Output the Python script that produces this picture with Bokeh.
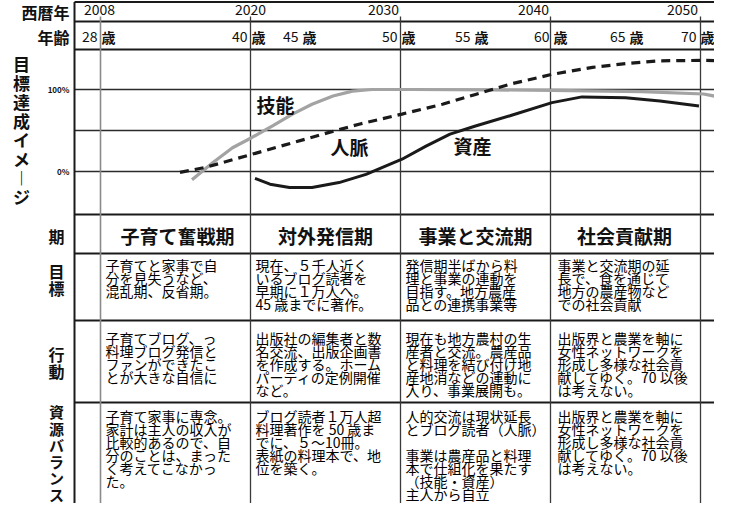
from bokeh.plotting import figure
from bokeh.models import Range1d
from bokeh.embed import file_html
from bokeh.resources import INLINE
from bokeh.core.properties import value

# ---------------- data ----------------
year_labels = ["2008", "2020", "2030", "2040", "2050"]
age_labels = ["28", "40", "45", "50", "55", "60", "65", "70"]
pct_labels = ["100%", "0%"]
pct_values = [100, 0]

skill_year = [2016.1, 2017.5, 2018.8, 2020.1, 2021.5, 2022.8, 2024.1, 2025.5, 2026.8,
              2028.1, 2030.8, 2036.1, 2040.1, 2046.1, 2050.2, 2051.5]
skill_pct = [-10, 11, 29, 41.5, 56, 70, 82, 92, 98, 100, 100, 99.5, 99, 97.5, 94.5, 90]

network_year = [2015.3, 2017.0, 2020.1, 2022.8, 2025.3, 2027.3, 2030.1, 2032.8, 2035.0,
                2037.3, 2040.1, 2042.8, 2045.0, 2047.3, 2050.3, 2051.5]
network_pct = [-1, 5, 21, 35, 48, 58, 70, 82, 94, 106.5, 118.5, 127, 131.5, 135, 135.5, 135]

asset_year = [2020.3, 2021.3, 2022.6, 2024.1, 2025.9, 2027.7, 2030.1, 2031.7, 2033.3,
              2035.0, 2037.3, 2040.1, 2042.1, 2045.0, 2047.3, 2049.9]
asset_pct = [-8.5, -15.5, -19.5, -19.5, -13.5, -3.5, 15, 31, 45.5, 55.5, 68, 84, 91, 90, 86, 80]

curve_names = ["技能", "人脈", "資産"]

chart_title = "目標達成イメ︱ジ"
row_names = ["期", "目標", "行動", "資源バランス"]
periods = ["子育て奮戦期", "対外発信期", "事業と交流期", "社会貢献期"]

goals = [
    "子育てと家事で自\n分を見失うなど、\n混乱期、反省期。",
    "現在、５千人近く\nいるブログ読者を\n早期に１万人へ。\n45 歳までに著作。",
    "発信期半ばから料\n理と事業の連動を\n目指す。地方農産\n品との連携事業等",
    "事業と交流期の延\n長で、食を通じて\n地方の農産物など\nでの社会貢献",
]
actions = [
    "子育てブログ、っ\n料理ブログ発信と\nファンができたこ\nとが大きな自信に",
    "出版社の編集者と数\n名交流、出版企画書\nを作成する。ホーム\nパーティの定例開催\nなど。",
    "現在も地方農村の生\n産者と交流。農産品\nと料理を結び付け地\n産地消などの運動に\n入り、事業展開も。",
    "出版界と農業を軸に\n女性ネットワークを\n形成し多様な社会貢\n献してゆく。70 以後\nは考えない。",
]
resources = [
    "子育て家事に専念。\n家計は主人の収入が\n比較的あるので、自\n分のことは、まった\nく考えてこなかっ\nた。",
    "ブログ読者１万人超\n料理著作を 50 歳ま\nでに、５～10冊。\n表紙の料理本で、地\n位を築く。",
    "人的交流は現状延長\nとブログ読者（人脈）\n\n事業は農産品と料理\n本で仕組化を果たす\n（技能・資産）\n主人から自立",
    "出版界と農業を軸に\n女性ネットワークを\n形成し多様な社会貢\n献してゆく。70 以後\nは考えない。",
]

# ---------------- layout (pixel positions of the printed sheet) ----------------
W, H = 714, 503
OFF = 8                       # page margin: sheet pixel = figure pixel + 8
PX_YEAR, X2020 = 15.0, 258.0  # 15 px per year, 2020 at px 258
PX_PCT, Y0 = 0.82, 179.0      # 0.82 px per %, 0% at px 179


def X(px):
    return 2020 + (px - X2020) / PX_YEAR


def Y(py):
    return (Y0 - py) / PX_PCT


FONT = value("Noto Sans CJK JP")
INK = "#111111"

p = figure(width=W, height=H, output_backend="svg", toolbar_location=None,
           x_range=Range1d(X(OFF), X(OFF + W)), y_range=Range1d(Y(OFF + H), Y(OFF)),
           x_axis_type=None, y_axis_type=None, min_border=0)
p.grid.visible = False
p.outline_line_color = None
p.background_fill_color = "white"
p.border_fill_color = "white"

grid_pos = [X(108), 2020, 2030, 2040, 2050]   # 2008 column is compressed on the sheet
LEFT, RIGHT, BOTTOM = X(82), X(735), Y(525)

# horizontal rules
rule_px = [9.5, 29, 57, 222, 261, 328, 410]
p.segment(x0=[LEFT] * len(rule_px), x1=[RIGHT] * len(rule_px),
          y0=[Y(v) for v in rule_px], y1=[Y(v) for v in rule_px],
          line_color="#1a1a1a", line_width=2)
# chart reference lines 100%, 50%, 0%
p.segment(x0=[LEFT] * 3, x1=[RIGHT] * 3, y0=[100, 50, 0], y1=[100, 50, 0],
          line_color="#2a2a2a", line_width=1.6)
# outer left border
p.segment(x0=[LEFT], x1=[LEFT], y0=[Y(9.5)], y1=[BOTTOM], line_color="#1a1a1a", line_width=2)
# vertical year lines
p.segment(x0=grid_pos[:1], x1=grid_pos[:1], y0=[Y(24)], y1=[BOTTOM],
          line_color="#8a8a8a", line_width=1.6)
p.segment(x0=grid_pos[1:], x1=grid_pos[1:], y0=[Y(24)] * 4, y1=[BOTTOM] * 4,
          line_color="#3a3a3a", line_width=1.3)

# curves
p.line(skill_year, skill_pct, line_color="#a3a3a3", line_width=3.2)
p.line(asset_year, asset_pct, line_color="#1a1a1a", line_width=3)
p.line(network_year, network_pct, line_color="#1a1a1a", line_width=3.2, line_dash="9 6")

# curve labels
p.text(x=[X(283), X(357), X(480)], y=[Y(112), Y(154), Y(153)], text=curve_names,
       text_font=FONT, text_font_size="19px", text_font_style="bold",
       text_align="center", text_baseline="middle", text_color=INK)

# year labels
year_x = [X(107), X(258), X(391), X(541), X(690)]
p.text(x=year_x, y=[Y(17)] * 5, text=year_labels, text_font=FONT, text_font_size="14px",
       text_align="center", text_baseline="middle", text_color=INK)

# age labels: number left of split point, 歳 right of it
age_split = [108, 258, 309, 408, 481, 560, 636, 707]
p.text(x=[X(v - 3) for v in age_split], y=[Y(44)] * 8, text=age_labels, text_font=FONT,
       text_font_size="14px", text_align="right", text_baseline="middle", text_color=INK)
p.text(x=[X(v + 1) for v in age_split], y=[Y(44)] * 8, text=["歳"] * 8, text_font=FONT,
       text_font_size="14px", text_font_style="bold", text_align="left",
       text_baseline="middle", text_color=INK)

# left side headings
p.text(x=[X(77), X(77)], y=[Y(19), Y(44)], text=["西暦年", "年齢"], text_font=FONT,
       text_font_size="16px", text_font_style="bold", text_align="right",
       text_baseline="middle", text_color=INK)
p.text(x=[X(77)] * 2, y=pct_values, text=pct_labels, text_font=FONT, text_font_size="8px",
       text_font_style="bold", text_align="right", text_baseline="middle", text_color=INK)


def vertical(label, cx, first_cy, step, size):
    chars = list(label)
    p.text(x=[X(cx)] * len(chars), y=[Y(first_cy + i * step) for i in range(len(chars))],
           text=chars, text_font=FONT, text_font_size=size, text_font_style="bold",
           text_align="center", text_baseline="middle", text_color=INK)


vertical(chart_title, 29, 71, 19, "17px")
vertical(row_names[0], 64, 243, 17, "16px")
vertical(row_names[1], 64, 278, 17, "16px")
vertical(row_names[2], 64, 361, 17, "16px")
vertical(row_names[3], 64, 419, 16.5, "15px")

# period names
p.text(x=[X(185), X(333), X(483), X(632)], y=[Y(243)] * 4, text=periods, text_font=FONT,
       text_font_size="19px", text_font_style="bold", text_align="center",
       text_baseline="middle", text_color=INK)

# cell texts, one line at a time
LINE = 13.0
cell_left = [108, 258, 408, 560]
xs, ys, ts = [], [], []
for texts, first_cy in [(goals, 272.5), (actions, 345), (resources, 423)]:
    for left, block in zip(cell_left, texts):
        for i, line in enumerate(block.split("\n")):
            if line:
                xs.append(X(left + 5))
                ys.append(Y(first_cy + i * LINE))
                ts.append(line)
p.text(x=xs, y=ys, text=ts, text_font=FONT, text_font_size="14px", text_align="left",
       text_baseline="middle", text_color="#000000")

open("out.html", "w").write(file_html(p, INLINE))
